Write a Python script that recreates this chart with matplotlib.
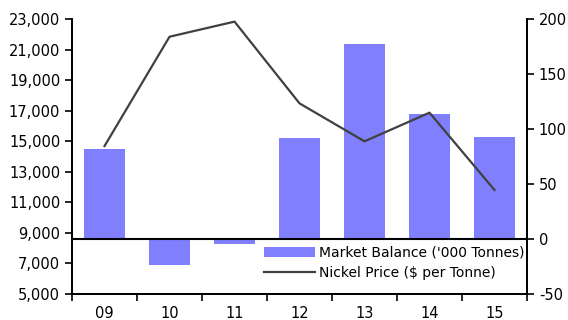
import numpy as np
import matplotlib.pyplot as plt
from matplotlib.ticker import FuncFormatter

years = ['09', '10', '11', '12', '13', '14', '15']
market_balance = [82, -23.5, -4.7, 92, 178, 114, 93]
nickel_price = [14700, 21870, 22860, 17500, 15010, 16890, 11820]

left_ticks = [5000, 7000, 9000, 11000, 13000, 15000, 17000, 19000, 21000, 23000]
right_ticks = [-50, 0, 50, 100, 150, 200]

bar_color = '#8080FF'
line_color = '#404040'

plt.rcParams['font.family'] = ['DejaVu Sans']
plt.rcParams['font.size'] = 10


def main():
    fig = plt.figure(figsize=(5.68, 3.2), dpi=100)
    ax_bar = fig.add_axes([0.1268, 0.0813, 0.801, 0.8578])
    ax_line = ax_bar.twinx()

    x = np.arange(len(years))

    # bars on right-hand scale
    ax_bar.bar(x, market_balance, width=0.62, color=bar_color, zorder=2,
               label="Market Balance ('000 Tonnes)")
    ax_bar.axhline(0, color='black', lw=1.5, zorder=3)
    ax_bar.set_ylim(-50, 200)
    ax_bar.set_yticks(right_ticks)
    ax_bar.set_yticklabels([str(t) for t in right_ticks])
    ax_bar.yaxis.tick_right()
    ax_bar.yaxis.set_label_position('right')

    # line on left-hand scale
    ax_line.plot(x, nickel_price, color=line_color, lw=1.6,
                 label='Nickel Price ($ per Tonne)')
    ax_line.set_ylim(5000, 23000)
    ax_line.set_yticks(left_ticks)
    ax_line.yaxis.set_major_formatter(FuncFormatter(lambda v, p: f'{int(v):,}'))
    ax_line.yaxis.tick_left()
    ax_line.yaxis.set_label_position('left')

    ax_bar.set_xlim(-0.5, len(years) - 0.5)
    ax_bar.set_xticks(x)
    ax_bar.set_xticklabels(years)
    ax_bar.set_xticks(np.arange(-0.5, len(years)), minor=True)
    ax_bar.tick_params(axis='x', which='major', length=0, pad=9)
    ax_bar.tick_params(axis='x', which='minor', length=5, width=1.2, direction='out')

    for ax in (ax_bar, ax_line):
        ax.spines['top'].set_visible(False)
        for s in ('left', 'right', 'bottom'):
            ax.spines[s].set_linewidth(1.3)
        ax.tick_params(axis='y', length=5, width=1.2, direction='out', labelsize=10.5)
    ax_bar.tick_params(axis='x', labelsize=10.5)

    h1, l1 = ax_bar.get_legend_handles_labels()
    h2, l2 = ax_line.get_legend_handles_labels()
    ax_line.legend(h1 + h2, l1 + l2, loc='upper right', bbox_to_anchor=(0.995, 0.175),
                   frameon=False, borderpad=0, borderaxespad=0, handlelength=3.7,
                   handletextpad=0.3, labelspacing=0.45, fontsize=10)

    fig.savefig('out.png', dpi=100)


if __name__ == "__main__":
    main()
